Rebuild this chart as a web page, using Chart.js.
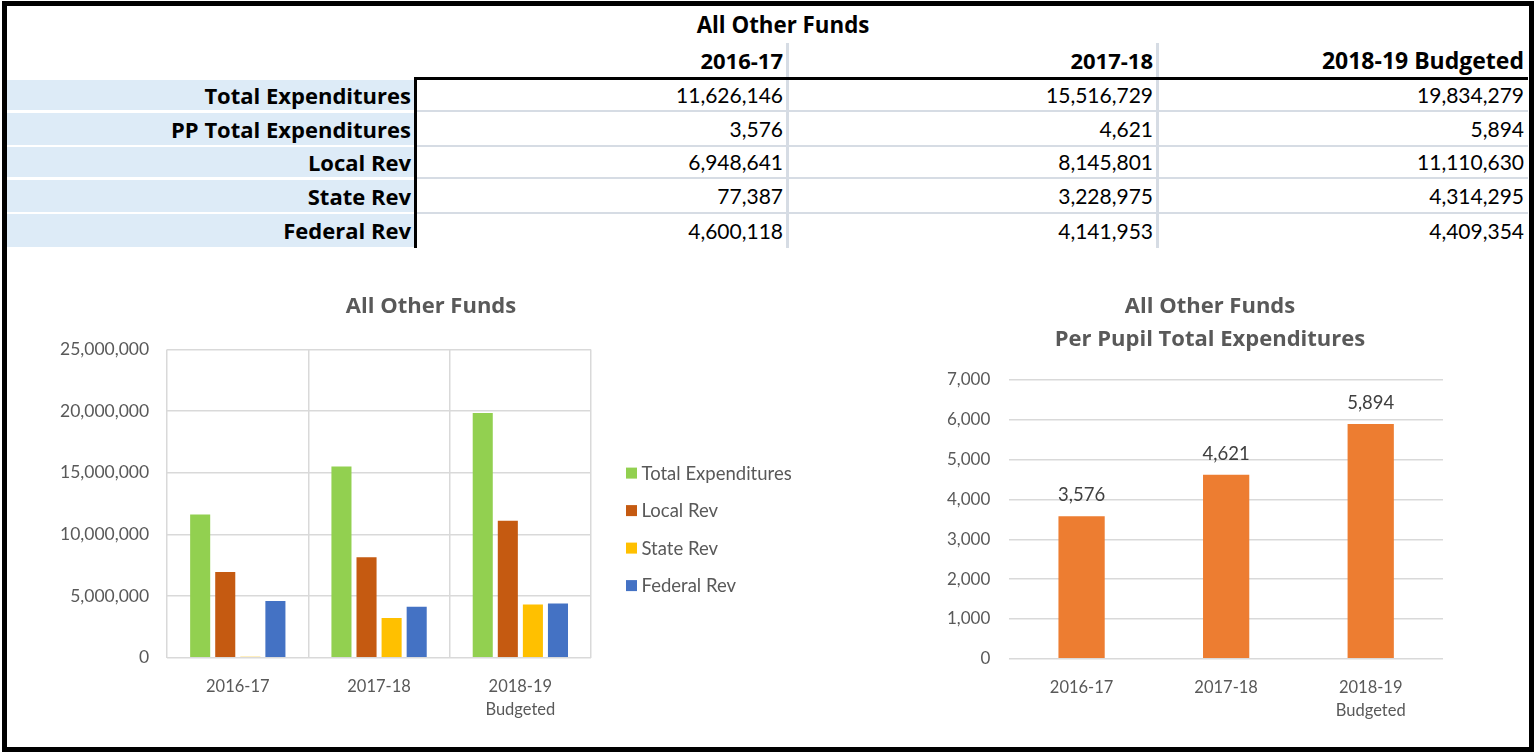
<!DOCTYPE html>
<html>
<head>
<meta charset="utf-8">
<script src="https://cdn.jsdelivr.net/npm/chart.js@4.4.0/dist/chart.umd.min.js"></script>
<style>
  html, body { margin: 0; padding: 0; background: #fff; width: 1539px; height: 753px; overflow: hidden; font-family: Lato, "Open Sans", sans-serif; }
  #frame { position: absolute; left: 2px; top: 1px; width: 1532px; height: 751px; border: 5px solid #000; box-sizing: border-box; }
  .abs { position: absolute; white-space: nowrap; }
  .b { font-family: "Open Sans", Lato, sans-serif; font-weight: 700; }
  canvas { position: absolute; }
</style>
</head>
<body>
<div id="frame"></div>
<div id="table"></div>
<canvas id="c1" width="820" height="458" style="left:10px;top:280px;"></canvas>
<canvas id="c2" width="600" height="459" style="left:900px;top:280px;"></canvas>
<script>
// ---- data ----
const title = "All Other Funds";
const subTitle = "Per Pupil Total Expenditures";
const categories = ["2016-17", "2017-18", "2018-19 Budgeted"];
const totalExpenditures = [11626146, 15516729, 19834279];
const ppTotalExpenditures = [3576, 4621, 5894];
const localRev = [6948641, 8145801, 11110630];
const stateRev = [77387, 3228975, 4314295];
const federalRev = [4600118, 4141953, 4409354];
const rowLabels = ["Total Expenditures", "PP Total Expenditures", "Local Rev", "State Rev", "Federal Rev"];
const rowValues = [totalExpenditures, ppTotalExpenditures, localRev, stateRev, federalRev];
const leftTicks = [0, 5000000, 10000000, 15000000, 20000000, 25000000];
const rightTicks = [0, 1000, 2000, 3000, 4000, 5000, 6000, 7000];

const fmt = v => Number(v).toLocaleString('en-US');

// ---- table ----
const T = document.getElementById('table');
function add(txt, css, cls) { const d = document.createElement('div'); d.className = 'abs' + (cls ? ' ' + cls : ''); d.style.cssText = css; d.textContent = txt; T.appendChild(d); return d; }
add(title, 'left:583px;width:400px;top:8px;height:34px;line-height:34px;text-align:center;font-size:22.3px;color:#000;', 'b');
const colRight = [783, 1153, 1524];
const colSep = [786, 1156];
colSep.forEach(x => add('', `left:${x}px;top:43px;width:3px;height:205px;background:#d6dce4;`));
const headSize = [22, 22, 23];
categories.forEach((c, i) => add(c, `left:${colRight[i]-300}px;width:300px;top:44px;height:32px;line-height:32px;text-align:right;font-size:${headSize[i]}px;color:#000;`, 'b'));
const rowTop = [80, 113, 147, 180, 214];
const rowH = [30, 32, 30, 32, 33];
rowLabels.forEach((lab, r) => {
  add('', `left:7px;top:${rowTop[r]}px;width:407px;height:${rowH[r]}px;background:#ddebf7;`);
  add(lab, `left:7px;width:404px;top:${rowTop[r]}px;height:${rowH[r]}px;line-height:${rowH[r]}px;text-align:right;font-size:22px;color:#000;`, 'b');
  if (r < rowLabels.length - 1) add('', `left:417px;top:${rowTop[r] + rowH[r]}px;width:1111px;height:2px;background:#d6dce4;`);
  rowValues[r].forEach((v, i) => add(fmt(v), `left:${colRight[i]-300}px;width:300px;top:${rowTop[r]}px;height:${rowH[r]}px;line-height:${rowH[r]}px;text-align:right;font-size:21px;color:#000;`));
});
add('', 'left:414px;top:77px;width:1114px;height:3px;background:#000;');
add('', 'left:414px;top:77px;width:3px;height:171px;background:#000;');

// ---- charts ----
const gray = '#595959';
const gridCol = '#d9d9d9';
const font = 'Lato';
const boldFont = 'Open Sans';
const splitLabel = (lbl) => lbl.includes(' ') ? lbl.split(' ') : lbl;

// legend drawn to the right of the plot area from the chart's datasets
const sideLegend = {
  id: 'sideLegend',
  afterDraw(chart) {
    const { ctx, chartArea } = chart;
    const ds = chart.data.datasets;
    const step = 37.5;
    const cy = (chartArea.top + chartArea.bottom) / 2 + 25.75;
    const x = chartArea.right + 35;
    ctx.save();
    ctx.font = '18.5px ' + font;
    ctx.textBaseline = 'middle';
    ctx.textAlign = 'left';
    ds.forEach((d, i) => {
      const y = cy + (i - (ds.length - 1) / 2) * step;
      ctx.fillStyle = d.backgroundColor;
      ctx.fillRect(x, y - 5.5, 11, 11);
      ctx.fillStyle = gray;
      ctx.fillText(d.label, x + 15.5, y + 0.5);
    });
    ctx.restore();
  }
};

new Chart(document.getElementById('c1'), {
  type: 'bar',
  data: {
    labels: categories,
    datasets: [
      { label: 'Total Expenditures', data: totalExpenditures, backgroundColor: '#92d050' },
      { label: 'Local Rev', data: localRev, backgroundColor: '#c55a11' },
      { label: 'State Rev', data: stateRev, backgroundColor: '#ffc000' },
      { label: 'Federal Rev', data: federalRev, backgroundColor: '#4472c4' }
    ]
  },
  plugins: [sideLegend],
  options: {
    responsive: false, animation: false, devicePixelRatio: 1,
    layout: { padding: { left: 32, right: 10, top: 0, bottom: 0 } },
    datasets: { bar: { categoryPercentage: 0.71, barPercentage: 0.8 } },
    plugins: {
      title: { display: true, text: title, color: gray, font: { family: boldFont, size: 22, weight: 'bold' }, padding: { top: 14, bottom: 29 } },
      legend: { display: false },
      tooltip: { enabled: false }
    },
    scales: {
      x: {
        grid: { display: true, offset: true, color: gridCol, lineWidth: 1.5, drawTicks: false },
        border: { display: false },
        ticks: { color: gray, padding: 17, font: { family: font, size: 16.5, lineHeight: 1.4 }, callback: function (v) { return splitLabel(this.getLabelForValue(v)); } }
      },
      y: {
        min: leftTicks[0], max: leftTicks[leftTicks.length - 1],
        afterBuildTicks: s => { s.ticks = leftTicks.map(v => ({ value: v })); },
        grid: { color: gridCol, lineWidth: 1.5, drawTicks: false },
        border: { display: false },
        ticks: { color: gray, padding: 18, font: { family: font, size: 17.5 }, callback: v => fmt(v) }
      },
      legendSpace: {
        type: 'linear', position: 'right', display: true,
        grid: { display: false }, border: { display: false }, ticks: { display: false },
        afterFit: s => { s.width = 229; }
      }
    }
  }
});

const dataLabels = {
  id: 'dataLabels',
  afterDatasetsDraw(chart) {
    const ctx = chart.ctx;
    const meta = chart.getDatasetMeta(0);
    ctx.save();
    ctx.fillStyle = '#404040';
    ctx.font = '18.5px ' + font;
    ctx.textAlign = 'center';
    ctx.textBaseline = 'middle';
    meta.data.forEach((bar, i) => {
      ctx.fillText(fmt(chart.data.datasets[0].data[i]), bar.x, bar.y - 21);
    });
    ctx.restore();
  }
};

new Chart(document.getElementById('c2'), {
  type: 'bar',
  data: {
    labels: categories,
    datasets: [{ label: 'PP Total Expenditures', data: ppTotalExpenditures, backgroundColor: '#ed7d31' }]
  },
  plugins: [dataLabels],
  options: {
    responsive: false, animation: false, devicePixelRatio: 1,
    layout: { padding: { left: 28, right: 8, top: 0, bottom: 0 } },
    datasets: { bar: { categoryPercentage: 0.8, barPercentage: 0.4 } },
    plugins: {
      title: { display: true, text: [title, subTitle], color: gray, font: { family: boldFont, size: 22, weight: 'bold', lineHeight: 1.5 }, padding: { top: 10, bottom: 24 } },
      legend: { display: false },
      tooltip: { enabled: false }
    },
    scales: {
      x: {
        grid: { display: false, drawTicks: false },
        border: { display: false },
        ticks: { color: gray, padding: 17, font: { family: font, size: 16.5, lineHeight: 1.4 }, callback: function (v) { return splitLabel(this.getLabelForValue(v)); } }
      },
      y: {
        min: rightTicks[0], max: rightTicks[rightTicks.length - 1],
        afterBuildTicks: s => { s.ticks = rightTicks.map(v => ({ value: v })); },
        grid: { color: gridCol, lineWidth: 1.5, drawTicks: false },
        border: { display: false },
        ticks: { color: gray, padding: 19, font: { family: font, size: 17 }, callback: v => fmt(v) }
      },
      rightSpace: {
        type: 'linear', position: 'right', display: true,
        grid: { display: false }, border: { display: false }, ticks: { display: false },
        afterFit: s => { s.width = 49; }
      }
    }
  }
});
</script>
</body>
</html>
